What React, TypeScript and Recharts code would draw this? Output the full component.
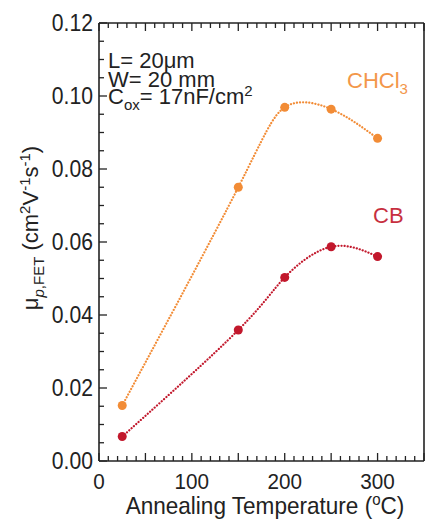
import React from 'react';
import { LineChart, Line, XAxis, YAxis } from 'recharts';

// annealing temperature (°C)
const temps = [25, 150, 200, 250, 300];
// hole mobility (cm2 V-1 s-1)
const chcl3Mobility = [0.0152, 0.075, 0.0969, 0.0964, 0.0884];
const cbMobility = [0.0067, 0.0359, 0.0503, 0.0587, 0.056];

const xLabels = [0, 100, 200, 300];
const yLabels = [0, 0.02, 0.04, 0.06, 0.08, 0.1, 0.12];

const xTicks: number[] = [];
for (let v = 0; v <= 350; v += 10) xTicks.push(v);
const yTicks: number[] = [];
for (let i = 0; i <= 24; i++) yTicks.push(+(i * 0.005).toFixed(3));

const data = temps.map((t, i) => ({ t, chcl3: chcl3Mobility[i], cb: cbMobility[i] }));

const ORANGE = '#F28C36';
const RED = '#C2182C';
const FONT = '"Liberation Sans", Arial, sans-serif';

const isYLabel = (v: number) => yLabels.some((l) => Math.abs(l - v) < 1e-6);

function NarrowText({ x, y, children, anchor = 'middle', size = 23, sx = 0.92, fill = '#222' }: any) {
  return (
    <text
      transform={`translate(${x},${y}) scale(${sx},1)`}
      textAnchor={anchor}
      fontSize={size}
      fontFamily={FONT}
      fill={fill}
    >
      {children}
    </text>
  );
}

function BottomTick({ x, y, payload }: any) {
  const v = payload.value;
  const len = v % 50 === 0 ? 8 : 5;
  return (
    <g>
      <line x1={x} x2={x} y1={y} y2={y - len} stroke="#222" strokeWidth={1.3} />
      {xLabels.includes(v) && <NarrowText x={x} y={y + 28} size={22.5}>{v}</NarrowText>}
    </g>
  );
}

function TopTick({ x, y, payload }: any) {
  const len = payload.value % 50 === 0 ? 8 : 5;
  return <line x1={x} x2={x} y1={y} y2={y + len} stroke="#222" strokeWidth={1.3} />;
}

function LeftTick({ x, y, payload }: any) {
  const v = payload.value;
  const major = isYLabel(v);
  return (
    <g>
      <line x1={x} x2={x + (major ? 8 : 5)} y1={y} y2={y} stroke="#222" strokeWidth={1.3} />
      {major && <NarrowText x={x - 6} y={y + 8} anchor="end">{v.toFixed(2)}</NarrowText>}
    </g>
  );
}

function RightTick({ x, y, payload }: any) {
  const len = isYLabel(payload.value) ? 8 : 5;
  return <line x1={x} x2={x - len} y1={y} y2={y} stroke="#222" strokeWidth={1.3} />;
}

const Dot = (color: string) => (props: any) => (
  <circle key={props.index} cx={props.cx} cy={props.cy} r={4.5} fill={color} stroke="none" />
);

const axisLine = { stroke: '#222', strokeWidth: 1.6 };

export default function App() {
  return (
    <div style={{ position: 'absolute', left: 0, top: 0, width: 425, height: 519, background: '#fff' }}>
      <LineChart width={425} height={519} data={data} margin={{ top: 22, right: 0, bottom: 57, left: 98 }}>
        <XAxis
          xAxisId="b"
          dataKey="t"
          type="number"
          domain={[0, 350]}
          ticks={xTicks}
          interval={0}
          height={1}
          tickSize={0}
          tickMargin={0}
          tickLine={false}
          axisLine={axisLine}
          tick={<BottomTick />}
        />
        <XAxis
          xAxisId="t"
          orientation="top"
          dataKey="t"
          type="number"
          domain={[0, 350]}
          ticks={xTicks}
          interval={0}
          height={1}
          tickSize={0}
          tickMargin={0}
          tickLine={false}
          axisLine={axisLine}
          tick={<TopTick />}
        />
        <YAxis
          yAxisId="l"
          type="number"
          domain={[0, 0.12]}
          ticks={yTicks}
          interval={0}
          width={1}
          tickSize={0}
          tickMargin={0}
          tickLine={false}
          axisLine={axisLine}
          tick={<LeftTick />}
        />
        <YAxis
          yAxisId="r"
          orientation="right"
          type="number"
          domain={[0, 0.12]}
          ticks={yTicks}
          interval={0}
          width={1}
          tickSize={0}
          tickMargin={0}
          tickLine={false}
          axisLine={axisLine}
          tick={<RightTick />}
        />
        <Line
          xAxisId="b"
          yAxisId="l"
          type="natural"
          dataKey="chcl3"
          stroke={ORANGE}
          strokeWidth={2.2}
          strokeDasharray="0.1 3"
          strokeLinecap="round"
          dot={Dot(ORANGE)}
          activeDot={false}
          isAnimationActive={false}
        />
        <Line
          xAxisId="b"
          yAxisId="l"
          type="natural"
          dataKey="cb"
          stroke={RED}
          strokeWidth={2.2}
          strokeDasharray="0.1 3"
          strokeLinecap="round"
          dot={Dot(RED)}
          activeDot={false}
          isAnimationActive={false}
        />

        {/* annotations */}
        <g fontFamily={FONT} fontSize={22} fill="#222">
          <text x={108} y={68}>L= 20μm</text>
          <text x={108} y={87}>W= 20 mm</text>
          <text x={108} y={104}>
            C<tspan fontSize={15} dy={6}>ox</tspan>
            <tspan dy={-6}>= 17nF/cm</tspan>
            <tspan fontSize={15} dy={-8}>2</tspan>
          </text>
          <text x={347} y={88} fill={ORANGE} opacity={0.9}>
            CHCl<tspan fontSize={15} dy={6}>3</tspan>
          </text>
          <text x={373} y={223} fill={RED} opacity={0.9}>CB</text>
        </g>

        {/* axis titles */}
        <NarrowText x={265} y={514} size={24} sx={0.94}>
          Annealing Temperature (<tspan fontSize={16} dy={-9}>o</tspan>
          <tspan dy={9}>C)</tspan>
        </NarrowText>
        <text
          transform="translate(38,228) rotate(-90)"
          textAnchor="middle"
          fontFamily={FONT}
          fontSize={22}
          fill="#222"
        >
          μ<tspan fontSize={15} dy={6}><tspan fontStyle="italic">p</tspan>,FET</tspan>
          <tspan dy={-6}> (cm</tspan>
          <tspan fontSize={15} dy={-8}>2</tspan>
          <tspan dy={8}>V</tspan>
          <tspan fontSize={15} dy={-8}>-1</tspan>
          <tspan dy={8}>s</tspan>
          <tspan fontSize={15} dy={-8}>-1</tspan>
          <tspan dy={8}>)</tspan>
        </text>
      </LineChart>
    </div>
  );
}
